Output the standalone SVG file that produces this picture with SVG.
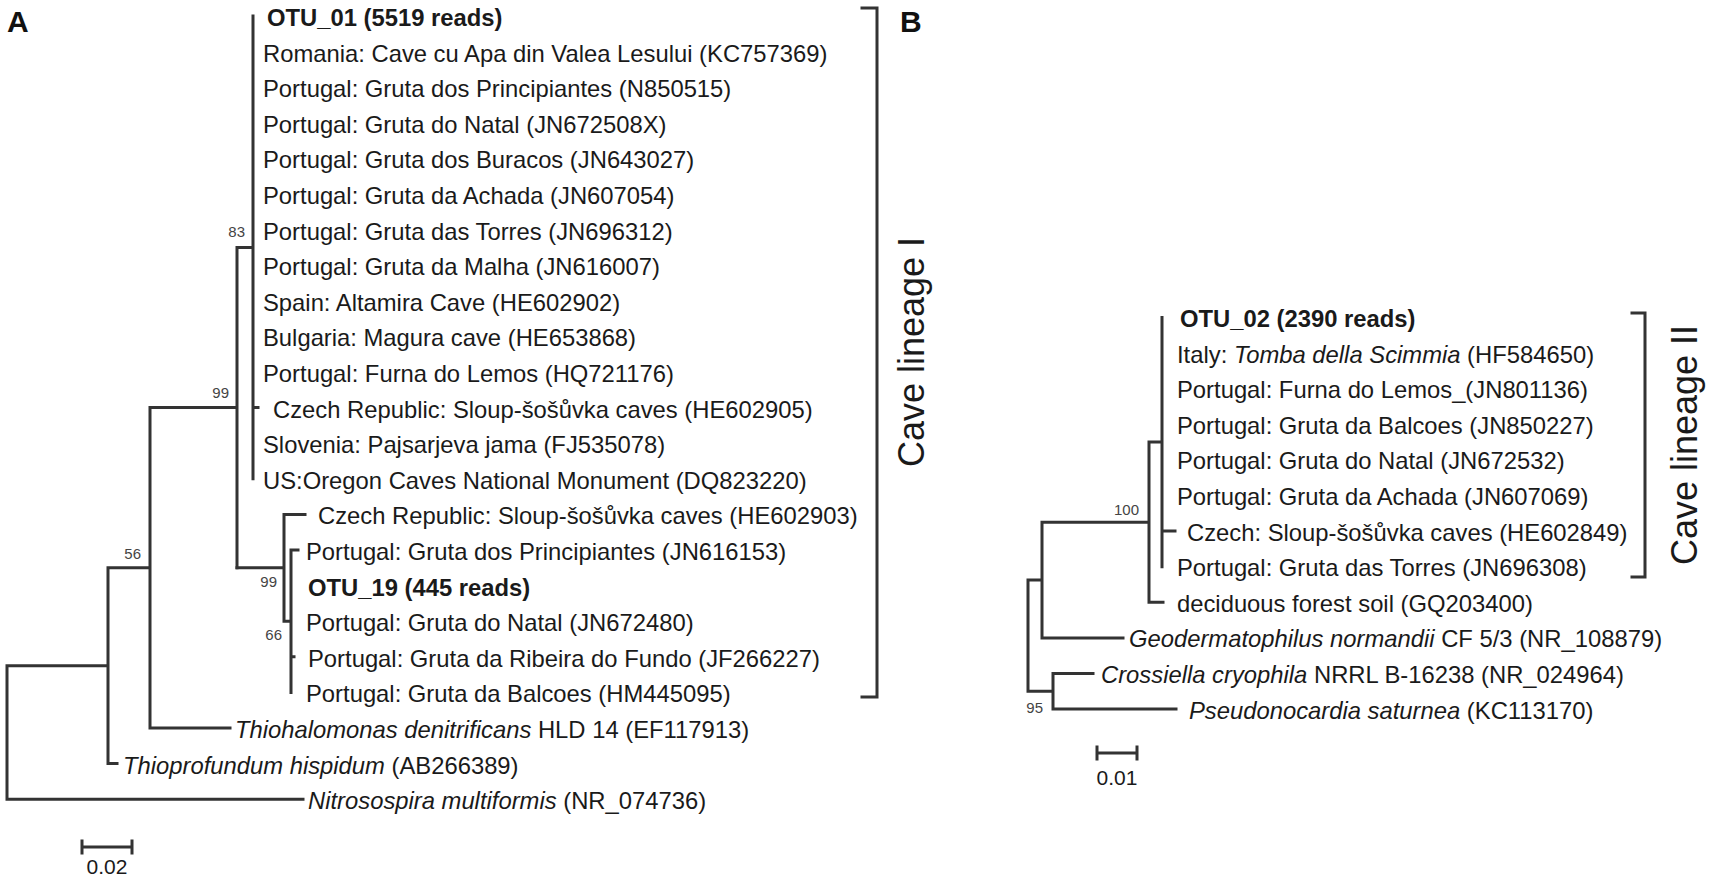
<svg xmlns="http://www.w3.org/2000/svg" width="1710" height="883" viewBox="0 0 1710 883">
<style>
text{font-family:"Liberation Sans",Arial,sans-serif;fill:#1a1a1a}
.lf{font-size:23.8px}
.b{font-weight:bold}
.i{font-style:italic}
.bs{font-size:15px;fill:#444;text-anchor:end}
.pl{font-size:30px;font-weight:bold;fill:#111}
.cl{font-size:36px;text-anchor:middle}
.sc{font-size:21px;text-anchor:middle}
.ln{fill:none;stroke:#333;stroke-width:3;stroke-linecap:square}
</style>
<rect width="1710" height="883" fill="#fff"/>
<g id="connectors" class="ln">
<path d="M253,16V478.8M253,407.6H258M237,247.4H253M237,247.4V567.8M150,407.6H237M150,407.6V728M150,728H230M108,567.8H150M108,567.8V763.6M108,763.6H117M7,665.7H108M7,665.7V799.2M7,799.2H303"/>
<path d="M237,567.8H284M284,514.4V621.2M284,514.4H305M284,621.2H291M291,550V692.4M291,550H298M291,656.8H294"/>
<path d="M1162,317.5V566.7M1162,531.1H1175M1149,442.1H1162M1149,602.3H1163M1149,442.1V602.3M1042,522.2H1149M1042,522.2V637.9M1042,637.9H1123M1028,580H1042M1028,580V691.3M1028,691.3H1053M1053,673.5V709.1M1053,673.5H1093M1053,709.1H1176"/>
<path d="M862,8H877V697H862"/>
<path d="M1632,313H1645V577H1632"/>
<path d="M82,847H132M82,841V853M132,841V853"/>
<path d="M1097,753H1137M1097,747V759M1137,747V759"/>
</g>
<g id="panel-labels">
<text class="pl" x="7" y="32">A</text>
<text class="pl" x="900" y="32">B</text>
</g>
<g id="bootstrap">
<text class="bs" x="245" y="237">83</text>
<text class="bs" x="229" y="398">99</text>
<text class="bs" x="141" y="559">56</text>
<text class="bs" x="277" y="587">99</text>
<text class="bs" x="282" y="640">66</text>
<text class="bs" x="1139" y="515">100</text>
<text class="bs" x="1043" y="713">95</text>
</g>
<g id="leavesA">
<g id="a0"><text class="lf b" x="267" y="26">OTU_01 (5519 reads)</text></g>
<g id="a1"><text class="lf" x="263" y="61.6">Romania: Cave cu Apa din Valea Lesului (KC757369)</text></g>
<g id="a2"><text class="lf" x="263" y="97.2">Portugal: Gruta dos Principiantes (N850515)</text></g>
<g id="a3"><text class="lf" x="263" y="132.8">Portugal: Gruta do Natal (JN672508X)</text></g>
<g id="a4"><text class="lf" x="263" y="168.4">Portugal: Gruta dos Buracos (JN643027)</text></g>
<g id="a5"><text class="lf" x="263" y="204">Portugal: Gruta da Achada (JN607054)</text></g>
<g id="a6"><text class="lf" x="263" y="239.6">Portugal: Gruta das Torres (JN696312)</text></g>
<g id="a7"><text class="lf" x="263" y="275.2">Portugal: Gruta da Malha (JN616007)</text></g>
<g id="a8"><text class="lf" x="263" y="310.8">Spain: Altamira Cave (HE602902)</text></g>
<g id="a9"><text class="lf" x="263" y="346.4">Bulgaria: Magura cave (HE653868)</text></g>
<g id="a10"><text class="lf" x="263" y="382">Portugal: Furna do Lemos (HQ721176)</text></g>
<g id="a11"><text class="lf" x="273" y="417.6">Czech Republic: Sloup-šošůvka caves (HE602905)</text></g>
<g id="a12"><text class="lf" x="263" y="453.2">Slovenia: Pajsarjeva jama (FJ535078)</text></g>
<g id="a13"><text class="lf" x="263" y="488.8">US:Oregon Caves National Monument (DQ823220)</text></g>
<g id="a14"><text class="lf" x="318" y="524.4">Czech Republic: Sloup-šošůvka caves (HE602903)</text></g>
<g id="a15"><text class="lf" x="306" y="560">Portugal: Gruta dos Principiantes (JN616153)</text></g>
<g id="a16"><text class="lf b" x="308" y="595.6">OTU_19 (445 reads)</text></g>
<g id="a17"><text class="lf" x="306" y="631.2">Portugal: Gruta do Natal (JN672480)</text></g>
<g id="a18"><text class="lf" x="308" y="666.8">Portugal: Gruta da Ribeira do Fundo (JF266227)</text></g>
<g id="a19"><text class="lf" x="306" y="702.4">Portugal: Gruta da Balcoes (HM445095)</text></g>
<g id="a20"><text class="lf" x="235" y="738"><tspan class="i">Thiohalomonas denitrificans</tspan> HLD 14 (EF117913)</text></g>
<g id="a21"><text class="lf" x="123" y="773.6"><tspan class="i">Thioprofundum hispidum</tspan> (AB266389)</text></g>
<g id="a22"><text class="lf" x="308" y="809.2"><tspan class="i">Nitrosospira multiformis</tspan> (NR_074736)</text></g>
</g>
<g id="leavesB">
<g id="b0"><text class="lf b" x="1180" y="327">OTU_02 (2390 reads)</text></g>
<g id="b1"><text class="lf" x="1177" y="362.6">Italy: <tspan class="i">Tomba della Scimmia</tspan> (HF584650)</text></g>
<g id="b2"><text class="lf" x="1177" y="398.2">Portugal: Furna do Lemos_(JN801136)</text></g>
<g id="b3"><text class="lf" x="1177" y="433.8">Portugal: Gruta da Balcoes (JN850227)</text></g>
<g id="b4"><text class="lf" x="1177" y="469.4">Portugal: Gruta do Natal (JN672532)</text></g>
<g id="b5"><text class="lf" x="1177" y="505">Portugal: Gruta da Achada (JN607069)</text></g>
<g id="b6"><text class="lf" x="1187" y="540.6">Czech: Sloup-šošůvka caves (HE602849)</text></g>
<g id="b7"><text class="lf" x="1177" y="576.2">Portugal: Gruta das Torres (JN696308)</text></g>
<g id="b8"><text class="lf" x="1177" y="611.8">deciduous forest soil (GQ203400)</text></g>
<g id="b9"><text class="lf" x="1129" y="647.4"><tspan class="i">Geodermatophilus normandii</tspan> CF 5/3 (NR_108879)</text></g>
<g id="b10"><text class="lf" x="1101" y="683"><tspan class="i">Crossiella cryophila</tspan> NRRL B-16238 (NR_024964)</text></g>
<g id="b11"><text class="lf" x="1189" y="718.6"><tspan class="i">Pseudonocardia saturnea</tspan> (KC113170)</text></g>
</g>
<g id="brackets">
<text class="cl" transform="translate(924,352) rotate(-90)">Cave lineage I</text>
<text class="cl" transform="translate(1697,445) rotate(-90)">Cave lineage II</text>
</g>
<g id="scales">
<text class="sc" x="107" y="874">0.02</text>
<text class="sc" x="1117" y="785">0.01</text>
</g>
</svg>
